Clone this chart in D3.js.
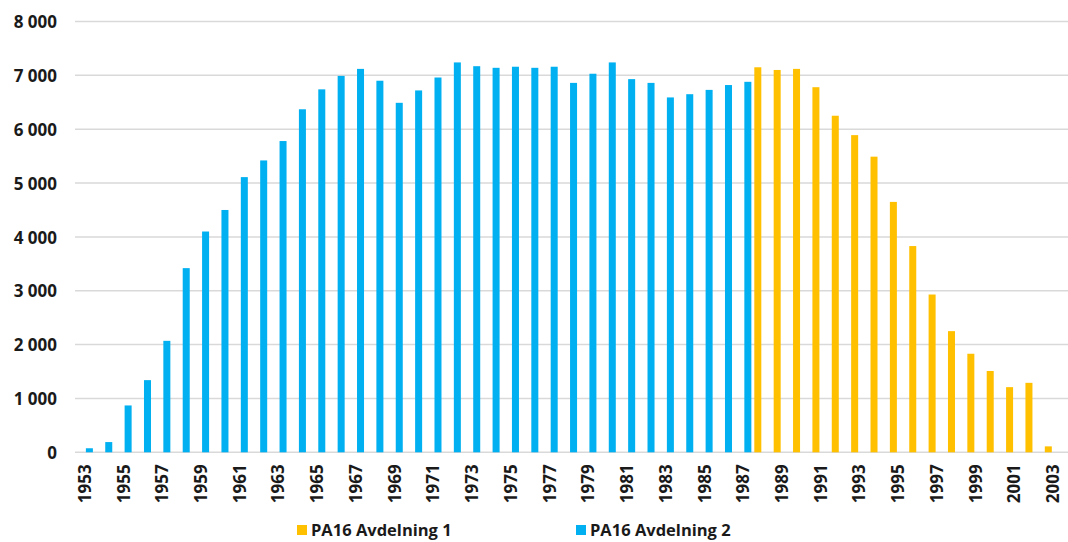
<!DOCTYPE html>
<html>
<head>
<meta charset="utf-8">
<script src="https://cdn.jsdelivr.net/npm/d3@7"></script>
<style>
    body { margin: 0; background: #fff; }
    text { font-family: "Open Sans", sans-serif; font-weight: bold; fill: #1a1a1a; }
</style>
</head>
<body>
<svg id="chart" width="1068" height="542"></svg>
<script>
var years = d3.range(1953, 2004);

var seriesNames = ["PA16 Avdelning 1", "PA16 Avdelning 2"];
var seriesColors = ["#FFC000", "#00B0F0"];

// Avdelning 1: 1988 - 2003
var avd1 = [7150, 7100, 7120, 6780, 6250, 5890, 5490, 4650, 3830, 2930, 2250, 1830, 1510, 1210, 1290, 110];
var avd1Start = 1988;

// Avdelning 2: 1953 - 1987
var avd2 = [75, 190, 870, 1340, 2070, 3420, 4100, 4500, 5110, 5420, 5780, 6370, 6740, 6990, 7120,
    6900, 6490, 6720, 6960, 7240, 7170, 7140, 7160, 7140, 7160, 6860, 7030, 7240, 6930, 6860,
    6590, 6650, 6730, 6820, 6880];
var avd2Start = 1953;

var yTicks = [0, 1000, 2000, 3000, 4000, 5000, 6000, 7000, 8000];
var xTickYears = years.filter(function (y) { return (y - 1953) % 2 == 0; });

var svg = d3.select("#chart");

var x = d3.scaleBand().domain(years).range([75, 1062.7]).paddingInner(0).paddingOuter(0);
var xSub = d3.scaleBand().domain([0, 1]).range([0, x.bandwidth()]).paddingInner(0.255).paddingOuter(0.157);
var y = d3.scaleLinear().domain([0, 8000]).range([452.3, 21.5]);

var fmt = d3.formatLocale({decimal: ",", thousands: " ", grouping: [3], currency: ["", " kr"]}).format(",d");

// gridlines
svg.append("g").selectAll("line").data(yTicks).enter().append("line")
    .attr("x1", 75).attr("x2", 1068)
    .attr("y1", function (d) { return y(d); })
    .attr("y2", function (d) { return y(d); })
    .style("stroke", "#d9d9d9")
    .style("stroke-width", 1.5);

// bars
var rows = [];
avd1.forEach(function (v, i) { rows.push({year: avd1Start + i, s: 0, v: v}); });
avd2.forEach(function (v, i) { rows.push({year: avd2Start + i, s: 1, v: v}); });

svg.append("g").selectAll("rect").data(rows).enter().append("rect")
    .attr("x", function (d) { return x(d.year) + xSub(d.s); })
    .attr("width", xSub.bandwidth())
    .attr("y", function (d) { return y(d.v); })
    .attr("height", function (d) { return y(0) - y(d.v); })
    .style("fill", function (d) { return seriesColors[d.s]; });

// y axis
var yAxis = svg.append("g").attr("transform", "translate(57,0)")
    .call(d3.axisLeft(y).tickValues(yTicks).tickSize(0).tickPadding(0).tickFormat(fmt));
yAxis.select(".domain").remove();
yAxis.selectAll("text").style("font-size", "17px").style("font-family", null).attr("dy", "0.36em");

// x axis
var xAxis = svg.append("g").attr("transform", "translate(0," + y(0) + ")")
    .call(d3.axisBottom(x).tickValues(xTickYears).tickSize(0));
xAxis.select(".domain").remove();
xAxis.selectAll("text")
    .attr("transform", "rotate(-90)")
    .attr("x", -12).attr("y", 0).attr("dy", "0.36em")
    .style("text-anchor", "end")
    .style("font-size", "17px")
    .style("font-family", null);

// legend (nudged up a little so the descenders stay inside the picture)
var legendX = [297, 576];
var legend = svg.append("g").selectAll("g").data(seriesNames).enter().append("g")
    .attr("transform", function (d, i) { return "translate(" + legendX[i] + ",525)"; });
legend.append("rect").attr("width", 10).attr("height", 10)
    .style("fill", function (d, i) { return seriesColors[i]; });
legend.append("text").attr("x", 14).attr("y", 5).attr("dy", "0.36em")
    .style("font-size", "16.5px")
    .text(function (d) { return d; });
</script>
</body>
</html>
